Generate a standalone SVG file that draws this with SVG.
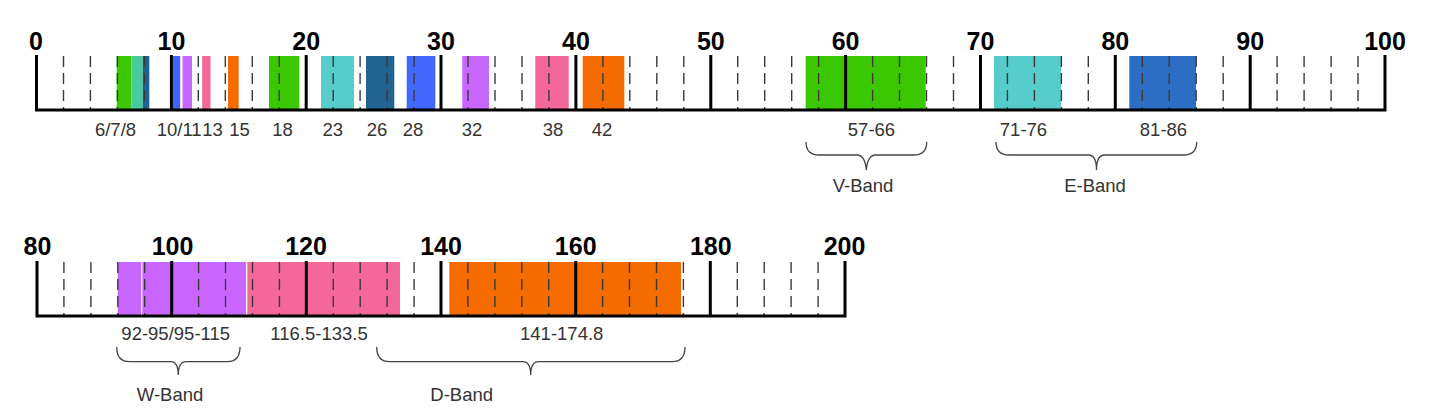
<svg xmlns="http://www.w3.org/2000/svg" width="1438" height="420" viewBox="0 0 1438 420">
<style>
.maj{font-family:"Liberation Sans",Arial,sans-serif;font-weight:bold;font-size:25px;fill:#000;text-anchor:middle}
.lbl{font-family:"Liberation Sans",Arial,sans-serif;font-size:18.5px;fill:#333;text-anchor:middle}
.mt{stroke:#000;stroke-width:3;fill:none}
.mn{stroke:#3a3a3a;stroke-width:1.4;stroke-dasharray:11 6}
.br{stroke:#444;stroke-width:1.3;fill:none}
</style>
<rect width="1438" height="420" fill="#fff"/>

<g id="top-bars">
<rect x="116.7" y="56" width="14.6" height="53" fill="#3cc800"/>
<rect x="131.3" y="56" width="11.4" height="53" fill="#47cc9e"/>
<rect x="142.7" y="56" width="6.6" height="53" fill="#22628e"/>
<rect x="172.7" y="56" width="7.5" height="53" fill="#3f63ff"/>
<rect x="182.5" y="56" width="9.5" height="53" fill="#c866ff"/>
<rect x="202.2" y="56" width="8.3" height="53" fill="#f4679b"/>
<rect x="228" y="56" width="10.7" height="53" fill="#f46b00"/>
<rect x="269" y="56" width="30.3" height="53" fill="#3cc800"/>
<rect x="321" y="56" width="33" height="53" fill="#56cdcb"/>
<rect x="366" y="56" width="28.3" height="53" fill="#22628e"/>
<rect x="406.7" y="56" width="28.6" height="53" fill="#4169ff"/>
<rect x="462.3" y="56" width="26.7" height="53" fill="#c866ff"/>
<rect x="535.3" y="56" width="33.4" height="53" fill="#f4679b"/>
<rect x="582.7" y="56" width="41.6" height="53" fill="#f46b00"/>
<rect x="805.7" y="56" width="120" height="53" fill="#3cc800"/>
<rect x="994" y="56" width="67" height="53" fill="#56cdcb"/>
<rect x="1129.3" y="56" width="66.7" height="53" fill="#2c6ec4"/>
</g>

<g id="top-minor-ticks" class="mn">
<line x1="63.5" y1="56" x2="63.5" y2="109"/>
<line x1="90.4" y1="56" x2="90.4" y2="109"/>
<line x1="117.4" y1="56" x2="117.4" y2="109"/>
<line x1="144.4" y1="56" x2="144.4" y2="109"/>
<line x1="198.3" y1="56" x2="198.3" y2="109"/>
<line x1="225.3" y1="56" x2="225.3" y2="109"/>
<line x1="252.3" y1="56" x2="252.3" y2="109"/>
<line x1="279.2" y1="56" x2="279.2" y2="109"/>
<line x1="333.2" y1="56" x2="333.2" y2="109"/>
<line x1="360.1" y1="56" x2="360.1" y2="109"/>
<line x1="387.1" y1="56" x2="387.1" y2="109"/>
<line x1="414.1" y1="56" x2="414.1" y2="109"/>
<line x1="468" y1="56" x2="468" y2="109"/>
<line x1="495" y1="56" x2="495" y2="109"/>
<line x1="522" y1="56" x2="522" y2="109"/>
<line x1="548.9" y1="56" x2="548.9" y2="109"/>
<line x1="602.9" y1="56" x2="602.9" y2="109"/>
<line x1="629.8" y1="56" x2="629.8" y2="109"/>
<line x1="656.8" y1="56" x2="656.8" y2="109"/>
<line x1="683.8" y1="56" x2="683.8" y2="109"/>
<line x1="737.7" y1="56" x2="737.7" y2="109"/>
<line x1="764.7" y1="56" x2="764.7" y2="109"/>
<line x1="791.7" y1="56" x2="791.7" y2="109"/>
<line x1="818.6" y1="56" x2="818.6" y2="109"/>
<line x1="872.6" y1="56" x2="872.6" y2="109"/>
<line x1="899.5" y1="56" x2="899.5" y2="109"/>
<line x1="926.5" y1="56" x2="926.5" y2="109"/>
<line x1="953.5" y1="56" x2="953.5" y2="109"/>
<line x1="1007.4" y1="56" x2="1007.4" y2="109"/>
<line x1="1034.4" y1="56" x2="1034.4" y2="109"/>
<line x1="1061.4" y1="56" x2="1061.4" y2="109"/>
<line x1="1088.3" y1="56" x2="1088.3" y2="109"/>
<line x1="1142.3" y1="56" x2="1142.3" y2="109"/>
<line x1="1169.2" y1="56" x2="1169.2" y2="109"/>
<line x1="1196.2" y1="56" x2="1196.2" y2="109"/>
<line x1="1223.2" y1="56" x2="1223.2" y2="109"/>
<line x1="1277.1" y1="56" x2="1277.1" y2="109"/>
<line x1="1304.1" y1="56" x2="1304.1" y2="109"/>
<line x1="1331.1" y1="56" x2="1331.1" y2="109"/>
<line x1="1358" y1="56" x2="1358" y2="109"/>
</g>

<g id="top-ruler">
<path class="mt" d="M36.5 55V110H1385V55"/>
<path class="mt" d="M171.4 55V110M306.2 55V110M441 55V110M575.9 55V110M710.8 55V110M845.6 55V110M980.5 55V110M1115.3 55V110M1250.2 55V110"/>
<text class="maj" x="36" y="50">0</text>
<text class="maj" x="171.4" y="50">10</text>
<text class="maj" x="306.2" y="50">20</text>
<text class="maj" x="441" y="50">30</text>
<text class="maj" x="575.9" y="50">40</text>
<text class="maj" x="710.8" y="50">50</text>
<text class="maj" x="845.6" y="50">60</text>
<text class="maj" x="980.5" y="50">70</text>
<text class="maj" x="1115.3" y="50">80</text>
<text class="maj" x="1250.2" y="50">90</text>
<text class="maj" x="1385" y="50">100</text>
</g>

<g id="top-labels">
<text class="lbl" x="115.5" y="136">6/7/8</text>
<text class="lbl" x="179.2" y="136">10/11</text>
<text class="lbl" x="212.6" y="136">13</text>
<text class="lbl" x="239.5" y="136">15</text>
<text class="lbl" x="282.5" y="136">18</text>
<text class="lbl" x="332.7" y="136">23</text>
<text class="lbl" x="377" y="136">26</text>
<text class="lbl" x="413" y="136">28</text>
<text class="lbl" x="472" y="136">32</text>
<text class="lbl" x="553" y="136">38</text>
<text class="lbl" x="602" y="136">42</text>
<text class="lbl" x="871.5" y="136">57-66</text>
<text class="lbl" x="1023.5" y="136">71-76</text>
<text class="lbl" x="1163.5" y="136">81-86</text>
</g>

<g id="bottom-bars">
<rect x="117.7" y="262" width="128.3" height="53" fill="#c866ff"/>
<line x1="141.7" y1="262" x2="141.7" y2="315" stroke="#fff" stroke-width="1.2"/>
<rect x="247.3" y="262" width="152.7" height="53" fill="#f4679b"/>
<rect x="449.3" y="262" width="231.7" height="53" fill="#f46b00"/>
</g>

<g id="bottom-minor-ticks" class="mn">
<line x1="63.9" y1="262" x2="63.9" y2="315"/>
<line x1="90.9" y1="262" x2="90.9" y2="315"/>
<line x1="117.8" y1="262" x2="117.8" y2="315"/>
<line x1="144.7" y1="262" x2="144.7" y2="315"/>
<line x1="198.6" y1="262" x2="198.6" y2="315"/>
<line x1="225.5" y1="262" x2="225.5" y2="315"/>
<line x1="252.5" y1="262" x2="252.5" y2="315"/>
<line x1="279.4" y1="262" x2="279.4" y2="315"/>
<line x1="333.3" y1="262" x2="333.3" y2="315"/>
<line x1="360.2" y1="262" x2="360.2" y2="315"/>
<line x1="387.1" y1="262" x2="387.1" y2="315"/>
<line x1="414.1" y1="262" x2="414.1" y2="315"/>
<line x1="467.9" y1="262" x2="467.9" y2="315"/>
<line x1="494.9" y1="262" x2="494.9" y2="315"/>
<line x1="521.8" y1="262" x2="521.8" y2="315"/>
<line x1="548.7" y1="262" x2="548.7" y2="315"/>
<line x1="602.6" y1="262" x2="602.6" y2="315"/>
<line x1="629.5" y1="262" x2="629.5" y2="315"/>
<line x1="656.5" y1="262" x2="656.5" y2="315"/>
<line x1="683.4" y1="262" x2="683.4" y2="315"/>
<line x1="737.3" y1="262" x2="737.3" y2="315"/>
<line x1="764.2" y1="262" x2="764.2" y2="315"/>
<line x1="791.1" y1="262" x2="791.1" y2="315"/>
<line x1="818.1" y1="262" x2="818.1" y2="315"/>
</g>

<g id="bottom-ruler">
<path class="mt" d="M37 261V316H845V261"/>
<path class="mt" d="M171.7 261V316M306.3 261V316M441 261V316M575.7 261V316M710.3 261V316"/>
<text class="maj" x="37.5" y="255">80</text>
<text class="maj" x="172.5" y="255">100</text>
<text class="maj" x="306" y="255">120</text>
<text class="maj" x="441" y="255">140</text>
<text class="maj" x="575.7" y="255">160</text>
<text class="maj" x="710.8" y="255">180</text>
<text class="maj" x="844.5" y="255">200</text>
</g>

<g id="bottom-labels">
<text class="lbl" x="175.7" y="340">92-95/95-115</text>
<text class="lbl" x="319" y="340">116.5-133.5</text>
<text class="lbl" x="561.7" y="340">141-174.8</text>
</g>

<g id="connectors">
<path id="brace-v" class="br" d="M806 142Q806 155 819 155L857 155Q865 155 866.3 170Q867.6 155 875.6 155L913.7 155Q926.7 155 926.7 142"/>
<path id="brace-e" class="br" d="M996 142Q996 155 1009 155L1088.5 155Q1096.5 155 1096.5 170Q1096.5 155 1104.5 155L1183.7 155Q1196.7 155 1196.7 142"/>
<path id="brace-w" class="br" d="M116.7 347Q116.7 361.7 129.7 361.7L170.3 361.7Q178.3 361.7 178.3 375Q178.3 361.7 186.3 361.7L227 361.7Q240 361.7 240 347"/>
<path id="brace-d" class="br" d="M376.7 347Q376.7 361.7 389.7 361.7L522.7 361.7Q530.7 361.7 530.7 375Q530.7 361.7 538.7 361.7L672 361.7Q685 361.7 685 347"/>
</g>

<g id="band-labels">
<text class="lbl" x="863" y="192">V-Band</text>
<text class="lbl" x="1095" y="192">E-Band</text>
<text class="lbl" x="170" y="401">W-Band</text>
<text class="lbl" x="461.7" y="401">D-Band</text>
</g>
</svg>
